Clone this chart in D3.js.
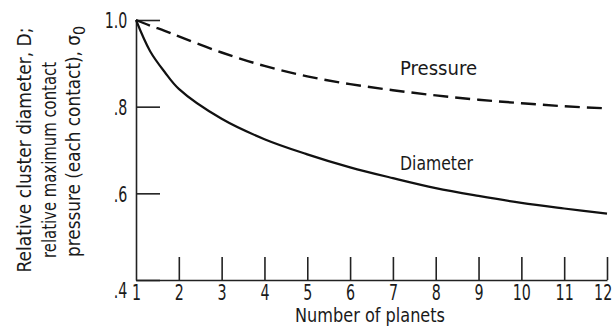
<!DOCTYPE html>
<html>
<head>
<meta charset="utf-8">
<script src="https://cdn.jsdelivr.net/npm/d3@7"></script>
<style>
  body { margin: 0; background: #fff; }
  text { font-family: "DejaVu Sans Condensed", "Liberation Sans Narrow", "Liberation Sans", sans-serif; fill: #1a1a1a; }
</style>
</head>
<body>
<div id="chart"></div>
<script>
// values
var planets = [1, 1.33, 1.67, 2, 3, 4, 5, 6, 7, 8, 9, 10, 11, 12];
var diameter = [1.0, 0.928, 0.880, 0.841, 0.772, 0.725, 0.690, 0.660, 0.635, 0.612, 0.594, 0.578, 0.565, 0.553];
var pressure = [1.0, 0.987, 0.975, 0.962, 0.925, 0.894, 0.870, 0.852, 0.838, 0.826, 0.816, 0.808, 0.801, 0.796];
var xTicks = [1, 2, 3, 4, 5, 6, 7, 8, 9, 10, 11, 12];
var yTicks = [0.4, 0.6, 0.8, 1.0];
var yTitle = ["Relative cluster diameter, D;", "relative maximum contact", "pressure (each contact), \u03c3"];

var width = 613, height = 328;

var svg = d3.select("#chart")
    .append("svg")
    .attr("width", width)
    .attr("height", height);

var x = d3.scaleLinear().domain([1, 12]).range([136, 607]);
var y = d3.scaleLinear().domain([0.4, 1.0]).range([280, 20]);

// x axis, ticks point up into the plot
var xAxis = svg.append("g")
    .attr("transform", "translate(0," + y(0.4) + ")")
    .call(d3.axisBottom(x).tickValues(xTicks).tickSize(-23).tickSizeOuter(0).tickPadding(4));
xAxis.selectAll(".tick line").filter(function (d) { return d === 1; }).remove();
xAxis.selectAll(".tick text")
    .attr("dx", function (d) { return d === 12 ? -6 : 0; })
    .attr("transform", "scale(0.72,1)");

// y axis, ticks point right
var yAxis = svg.append("g")
    .attr("transform", "translate(" + x(1) + ",0)")
    .call(d3.axisLeft(y).tickValues(yTicks).tickSize(-24).tickSizeOuter(0).tickPadding(12)
        .tickFormat(function (d) {
            return d === 1 ? "1.0" : d3.format(".1f")(d).replace(/^0/, "");
        }));
yAxis.selectAll(".tick text")
    .attr("dy", function (d) { return d === 0.4 ? "0.8em" : "0.36em"; })
    .attr("transform", "scale(0.72,1)");

svg.selectAll(".domain, .tick line")
    .attr("stroke", "#222")
    .attr("stroke-width", 1.6);
svg.selectAll(".tick text")
    .attr("font-size", 22)
    .attr("fill", "#1a1a1a");

var line = d3.line()
    .x(function (d) { return x(d[0]); })
    .y(function (d) { return y(d[1]); })
    .curve(d3.curveCatmullRom.alpha(0.5));

svg.append("path")
    .datum(d3.zip(planets, diameter))
    .attr("d", line)
    .attr("fill", "none")
    .attr("stroke", "#111")
    .attr("stroke-width", 2.2);

svg.append("path")
    .datum(d3.zip(planets, pressure))
    .attr("d", line)
    .attr("fill", "none")
    .attr("stroke", "#111")
    .attr("stroke-width", 2.4)
    .attr("stroke-dasharray", "15,7");

// curve labels
svg.append("text")
    .attr("x", 400).attr("y", 75)
    .attr("font-size", 20)
    .attr("textLength", 77)
    .attr("lengthAdjust", "spacingAndGlyphs")
    .text("Pressure");

svg.append("text")
    .attr("x", 400).attr("y", 170)
    .attr("font-size", 20)
    .attr("textLength", 73)
    .attr("lengthAdjust", "spacingAndGlyphs")
    .text("Diameter");

// x axis title
svg.append("text")
    .attr("x", 295).attr("y", 322)
    .attr("font-size", 19)
    .attr("textLength", 150)
    .attr("lengthAdjust", "spacingAndGlyphs")
    .text("Number of planets");

// y axis title, three rotated lines
var titleX = [31, 56, 80];
var titleMid = [150, 160, 146];
var titleLen = [245, 196, 222];
yTitle.forEach(function (t, i) {
    var tx = svg.append("text")
        .attr("transform", "translate(" + titleX[i] + "," + (titleMid[i] + titleLen[i] / 2) + ") rotate(-90)")
        .attr("font-size", 19);
    tx.append("tspan")
        .attr("textLength", titleLen[i])
        .attr("lengthAdjust", "spacingAndGlyphs")
        .text(t);
    if (i === 2) {
        tx.append("tspan")
            .attr("dy", 5)
            .attr("font-size", 16)
            .text("0");
    }
});
</script>
</body>
</html>
